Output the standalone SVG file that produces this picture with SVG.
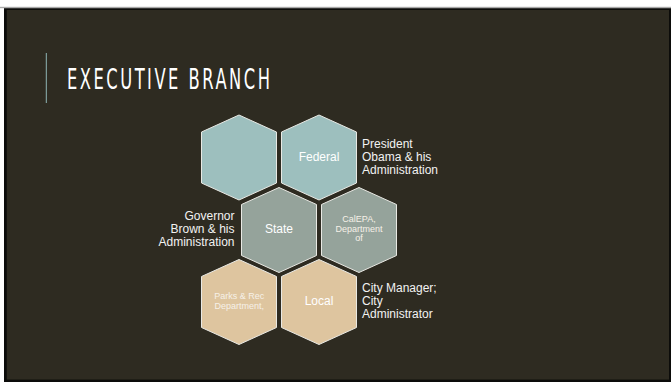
<svg xmlns="http://www.w3.org/2000/svg" width="671" height="382" viewBox="0 0 671 382">
  <style>
    .hex { stroke: #e9e9e4; stroke-width: 1; }
    .teal { fill: #9dbfbe; }
    .gray { fill: #95a39b; }
    .tan { fill: #dec59f; }
    .lbl { font-family: "Liberation Sans", Arial, sans-serif; fill: #ffffff; }
    .big { font-size: 12px; }
    .small { font-size: 9px; fill: #f6f1e8; }
    .side { font-family: "Liberation Sans", Arial, sans-serif; font-size: 12px; fill: #f2f2f2; }
  </style>
  <rect x="0" y="0" width="671" height="382" fill="#ffffff"/>
  <rect x="0" y="6.8" width="671" height="1.4" fill="#a9a9a9"/>
  <rect x="4" y="8.2" width="667" height="373.8" fill="#0c0c0a"/>
  <rect x="6.8" y="10" width="662.2" height="369.6" fill="#2e2b21"/>
  <line x1="46.3" y1="53" x2="46.3" y2="103" stroke="#8fb6b6" stroke-width="1"/>
  <text transform="scale(0.66,1)" x="101.5" y="89.5" font-family="'Liberation Sans Narrow', 'DejaVu Sans Condensed', sans-serif" font-size="27.5" fill="#ffffff" textLength="307.5" lengthAdjust="spacing">EXECUTIVE BRANCH</text>

  <g id="connectors"></g>

  <g id="hex-top-left">
    <polygon class="hex teal" points="239,115 276.5,132 276.5,183 239,200 201.5,183 201.5,132"/>
  </g>
  <g id="hex-federal">
    <polygon class="hex teal" points="319,115 356.5,132 356.5,183 319,200 281.5,183 281.5,132"/>
    <text class="lbl big" x="319" y="160.7" text-anchor="middle">Federal</text>
  </g>
  <g id="hex-state">
    <polygon class="hex gray" points="279,187.5 316.5,204.5 316.5,255.5 279,272.5 241.5,255.5 241.5,204.5"/>
    <text class="lbl big" x="279" y="233" text-anchor="middle">State</text>
  </g>
  <g id="hex-calepa">
    <polygon class="hex gray" points="359,187.5 396.5,204.5 396.5,255.5 359,272.5 321.5,255.5 321.5,204.5"/>
    <text class="lbl small" x="359" y="222" text-anchor="middle">CalEPA,</text>
    <text class="lbl small" x="359" y="231.7" text-anchor="middle">Department</text>
    <text class="lbl small" x="359" y="241.2" text-anchor="middle">of</text>
  </g>
  <g id="hex-parks">
    <polygon class="hex tan" points="239,259.5 276.5,276.5 276.5,327.5 239,344.5 201.5,327.5 201.5,276.5"/>
    <text class="lbl small" x="239.3" y="299" text-anchor="middle">Parks &amp; Rec</text>
    <text class="lbl small" x="239.3" y="309" text-anchor="middle">Department,</text>
  </g>
  <g id="hex-local">
    <polygon class="hex tan" points="319,259.5 356.5,276.5 356.5,327.5 319,344.5 281.5,327.5 281.5,276.5"/>
    <text class="lbl big" x="319" y="305" text-anchor="middle">Local</text>
  </g>

  <g id="label-federal">
    <text class="side" x="362" y="147.5">President</text>
    <text class="side" x="362" y="160.5">Obama &amp; his</text>
    <text class="side" x="362" y="173.5">Administration</text>
  </g>
  <g id="label-state">
    <text class="side" x="234.5" y="220" text-anchor="end">Governor</text>
    <text class="side" x="234.5" y="233" text-anchor="end">Brown &amp; his</text>
    <text class="side" x="234.5" y="246" text-anchor="end">Administration</text>
  </g>
  <g id="label-local">
    <text class="side" x="362" y="292">City Manager;</text>
    <text class="side" x="362" y="305">City</text>
    <text class="side" x="362" y="318">Administrator</text>
  </g>
</svg>
